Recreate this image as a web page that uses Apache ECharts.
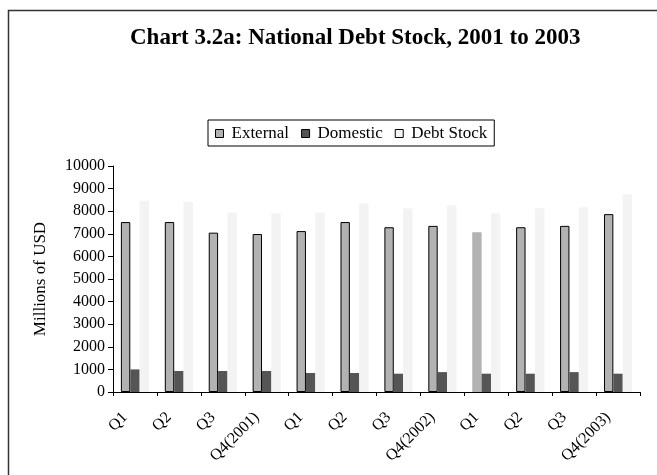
<!DOCTYPE html>
<html>
<head>
<meta charset="utf-8">
<script src="https://cdn.jsdelivr.net/npm/echarts@6/dist/echarts.min.js"></script>
<style>
* { margin: 0; padding: 0; }
body { background: #fff; }
#main { width: 657px; height: 475px; }
</style>
</head>
<body>
<div id="main"></div>
<script>
// 数据
var quarters = ['Q1', 'Q2', 'Q3', 'Q4(2001)', 'Q1', 'Q2', 'Q3', 'Q4(2002)', 'Q1', 'Q2', 'Q3', 'Q4(2003)']
var external = [7520, 7520, 7050, 6990, 7120, 7520, 7290, 7350, 7070, 7290, 7350, 7870]
var domestic = [1000, 930, 930, 930, 840, 840, 810, 880, 810, 810, 880, 810]
var debtStock = [8460, 8410, 7940, 7900, 7940, 8340, 8130, 8260, 7910, 8130, 8170, 8750]
var seriesNames = ['External', 'Domestic', 'Debt Stock']

var serif = 'Liberation Serif'

// Q1 2003 external bar has no outline in the original
var externalData = external.map(function (v, i) {
  if (i === 8) return { value: v, itemStyle: { borderWidth: 0 } }
  return v
})

var chart = echarts.init(document.getElementById('main'))
chart.setOption({
  animation: false,
  backgroundColor: '#fff',
  graphic: [{
    type: 'rect',
    shape: { x: 8.5, y: 10.5, width: 700, height: 500 },
    style: { fill: 'none', stroke: '#333', lineWidth: 1.5 },
    silent: true
  }],
  title: {
    text: 'Chart 3.2a: National Debt Stock, 2001 to 2003',
    left: 125,
    top: 22,
    textStyle: { fontFamily: serif, fontSize: 23, fontWeight: 'bold', color: '#000' }
  },
  legend: {
    data: seriesNames,
    left: 208,
    top: 120,
    itemWidth: 8,
    itemHeight: 8,
    itemGap: 12,
    padding: [5, 7, 4, 7],
    borderColor: '#000',
    borderWidth: 1,
    icon: 'rect',
    itemStyle: { borderColor: '#000', borderWidth: 1 },
    textStyle: { fontFamily: serif, fontSize: 17, color: '#000', padding: [0, 0, 0, 3] }
  },
  grid: { left: 113, right: 17, top: 166, bottom: 83 },
  xAxis: {
    type: 'category',
    data: quarters,
    axisLine: { lineStyle: { color: '#000', width: 1 } },
    axisTick: { show: true, length: 4, lineStyle: { color: '#000' } },
    axisLabel: {
      interval: 0, rotate: 45, fontFamily: serif, fontSize: 16, color: '#000',
      margin: 13, padding: [0, 14, 0, 0]
    }
  },
  yAxis: {
    type: 'value',
    min: 0,
    max: 10000,
    interval: 1000,
    name: 'Millions of USD',
    nameLocation: 'middle',
    nameGap: 64,
    nameTextStyle: { fontFamily: serif, fontSize: 17, color: '#000' },
    splitLine: { show: false },
    axisLine: { show: true, lineStyle: { color: '#000', width: 1 } },
    axisTick: { show: true, length: 5, lineStyle: { color: '#000' } },
    axisLabel: {
      fontFamily: serif, fontSize: 16, color: '#000', margin: 8,
      formatter: function (v) { return String(v) }
    }
  },
  series: [
    {
      name: seriesNames[0],
      type: 'bar',
      data: externalData,
      barGap: 0,
      barCategoryGap: '36%',
      itemStyle: { color: '#b2b2b2', borderColor: '#000', borderWidth: 1 }
    },
    {
      name: seriesNames[1],
      type: 'bar',
      data: domestic,
      itemStyle: { color: '#555555' }
    },
    {
      name: seriesNames[2],
      type: 'bar',
      data: debtStock,
      itemStyle: { color: '#f3f3f3' }
    }
  ]
})
</script>
</body>
</html>
